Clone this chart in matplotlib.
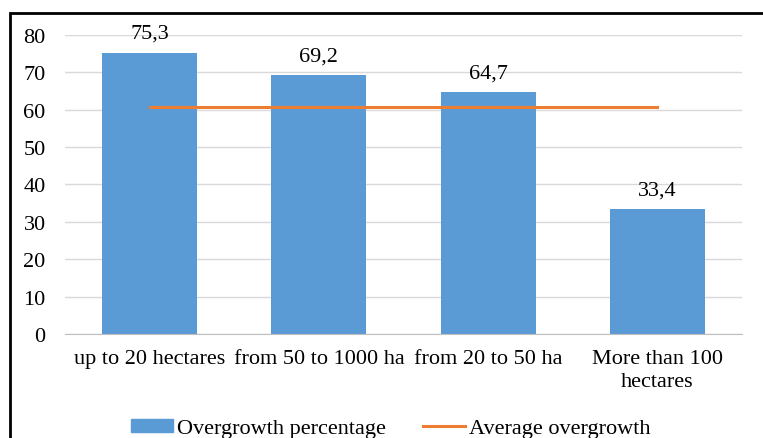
import matplotlib.pyplot as plt
from matplotlib.patches import Rectangle
from matplotlib.lines import Line2D

categories = ['up to 20 hectares', 'from 50 to 1000 ha', 'from 20 to 50 ha',
              'More than 100\nhectares']
overgrowth = [75.3, 69.2, 64.7, 33.4]
average = [60.7, 60.7, 60.7, 60.7]
yticks = [0, 10, 20, 30, 40, 50, 60, 70, 80]

plt.rcParams['font.family'] = ['Liberation Serif', 'DejaVu Serif']
plt.rcParams['font.size'] = 16

fig = plt.figure(figsize=(7.63, 4.39), dpi=100)
ax = fig.add_axes([0.0852, 0.2369, 0.8873, 0.6811])

x = list(range(len(categories)))
ax.bar(x, overgrowth, width=0.56, color='#5b9bd5', zorder=2)
ax.plot(x, average, color='#ed7d31', linewidth=2.2, zorder=3)

for xi, v in zip(x, overgrowth):
    ax.annotate(('%.1f' % v).replace('.', ','), (xi, v), xytext=(0, 7),
                textcoords='offset points', ha='center', va='bottom')

ax.set_xlim(-0.5, len(categories) - 0.5)
ax.set_ylim(0, 80)
ax.set_yticks(yticks)
ax.set_xticks(x)
ax.set_xticklabels(categories, linespacing=1.3)
ax.tick_params(axis='y', length=0, pad=14)
ax.tick_params(axis='x', length=0, pad=11)
ax.grid(axis='y', color='#d9d9d9', linewidth=1, zorder=0)
for s in ['top', 'right', 'left']:
    ax.spines[s].set_visible(False)
ax.spines['bottom'].set_color('#bfbfbf')

handles = [Rectangle((0, 0), 1, 1, color='#5b9bd5'),
           Line2D([0], [0], color='#ed7d31', linewidth=2.2)]
fig.legend(handles, ['Overgrowth percentage', 'Average overgrowth'],
           loc='center', bbox_to_anchor=(0.512, 0.022), ncol=2, frameon=False,
           handlelength=1.9, handleheight=0.55, handletextpad=0.15,
           columnspacing=1.7, borderpad=0)

# figure border (left and top visible)
fig.patches.append(Rectangle((10 / 763, -0.1), 1.2, 1 - 14 / 439 + 0.1,
                             transform=fig.transFigure, fill=False,
                             edgecolor='black', linewidth=2))

fig.savefig('out.png', dpi=100)
